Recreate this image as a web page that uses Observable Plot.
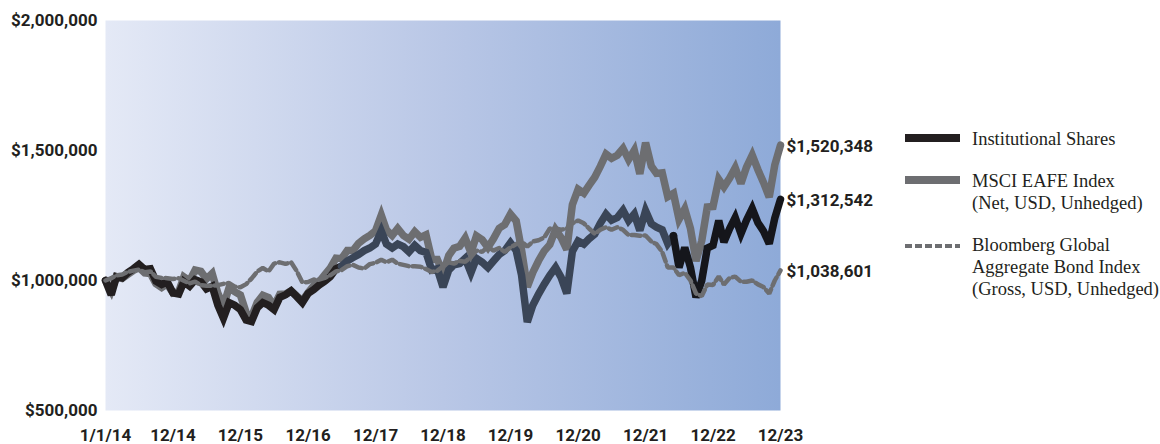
<!DOCTYPE html>
<html><head><meta charset="utf-8">
<script src="https://cdn.jsdelivr.net/npm/d3@7"></script>
<script src="https://cdn.jsdelivr.net/npm/@observablehq/plot@0.6"></script>
<style>
body{margin:0;background:#fff;}
#wrap{position:relative;width:1160px;height:444px;overflow:hidden;}
#legend{position:absolute;left:0;top:0;pointer-events:none;}
</style></head><body><div id="wrap"></div>
<script>
// Growth of $1,000,000 — month-end values, starting 1/1/14
const startDate = "2014-01-01";

const institutional = [1000000,
  945000,1015000,1010000,1030000,1045000,1062000,1042000,1045000,998000,985000,995000,952000,
  948000,995000,978000,1003000,995000,968000,978000,905000,855000,915000,905000,888000,
  848000,842000,895000,915000,905000,888000,935000,945000,960000,938000,915000,950000,
  965000,982000,997000,1015000,1045000,1055000,1075000,1088000,1100000,1115000,1125000,1140000,
  1190000,1140000,1125000,1140000,1130000,1110000,1135000,1115000,1108000,1040000,1045000,975000,
  1040000,1060000,1065000,1085000,1030000,1085000,1070000,1050000,1075000,1100000,1115000,1145000,
  1115000,1020000,840000,905000,948000,985000,1020000,1050000,1012000,950000,1112000,1152000,
  1140000,1160000,1178000,1220000,1255000,1232000,1242000,1270000,1230000,1256000,1192000,1268000,
  1218000,1205000,1195000,1142000,1172000,1050000,1127000,1050000,935000,1000000,1125000,1135000,
  1230000,1148000,1200000,1242000,1180000,1232000,1277000,1222000,1190000,1142000,1240000,1312542];

const msciEafe = [1000000,
  960000,1014000,1008000,1023000,1039000,1050000,1029000,1027000,988000,973000,987000,952000,
  957000,1014000,999000,1040000,1035000,1006000,1027000,951000,902000,973000,957000,944000,
  876000,860000,916000,943000,934000,902000,947000,948000,960000,940000,922000,953000,
  981000,994000,1022000,1048000,1086000,1084000,1115000,1115000,1143000,1160000,1173000,1191000,
  1251000,1194000,1173000,1200000,1173000,1159000,1188000,1166000,1176000,1082000,1081000,1028000,
  1096000,1124000,1131000,1163000,1107000,1172000,1157000,1127000,1160000,1201000,1215000,1255000,
  1229000,1118000,975000,1031000,1076000,1113000,1138000,1196000,1165000,1119000,1292000,1351000,
  1336000,1366000,1397000,1439000,1486000,1470000,1482000,1508000,1465000,1501000,1410000,1530000,
  1440000,1412000,1414000,1322000,1335000,1235000,1275000,1200000,1075000,1153000,1283000,1285000,
  1389000,1360000,1394000,1433000,1373000,1436000,1482000,1426000,1377000,1321000,1444000,1520348];

const bloombergAgg = [1000000,
  1009000,1020000,1023000,1033000,1038000,1042000,1032000,1035000,1014000,1010000,1009000,1006000,
  1009000,999000,989000,996000,982000,980000,980000,982000,987000,990000,976000,974000,
  986000,1007000,1035000,1048000,1035000,1065000,1070000,1064000,1070000,1036000,993000,994000,
  1004000,1003000,1010000,1020000,1035000,1040000,1055000,1060000,1050000,1046000,1063000,1068000,
  1080000,1070000,1080000,1065000,1060000,1055000,1055000,1053000,1044000,1033000,1037000,1055000,
  1070000,1065000,1075000,1072000,1090000,1115000,1110000,1130000,1115000,1125000,1110000,1127000,
  1140000,1150000,1130000,1150000,1155000,1165000,1200000,1200000,1195000,1200000,1220000,1231000,
  1220000,1200000,1180000,1195000,1205000,1195000,1205000,1195000,1175000,1175000,1172000,1173000,
  1150000,1140000,1110000,1050000,1050000,1020000,1030000,1000000,950000,940000,985000,983000,
  1015000,985000,1010000,1015000,995000,995000,1000000,985000,975000,950000,1000000,1038601];

const seriesNames = ["Institutional Shares", "MSCI EAFE Index", "Bloomberg Global Aggregate Bond Index"];
const legendLines = [["Institutional Shares"], ["MSCI EAFE Index", "(Net, USD, Unhedged)"],
  ["Bloomberg Global", "Aggregate Bond Index", "(Gross, USD, Unhedged)"]];
const xTickLabels = ["1/1/14","12/14","12/15","12/16","12/17","12/18","12/19","12/20","12/21","12/22","12/23"];
const yTicks = [500000, 1000000, 1500000, 2000000];

// colours
const cBlack = "#231f20", cSlate = "#3a4557", cGray = "#6d6e71";

const dates = institutional.map((_, i) => d3.utcMonth.offset(new Date(startDate), i));
const rows = (arr, name) => arr.map((v, i) => ({date: dates[i], value: v, series: name, i}));
const instRows = rows(institutional, seriesNames[0]);
const msciRows = rows(msciEafe, seriesNames[1]);
const bondRows = rows(bloombergAgg, seriesNames[2]);
const last = institutional.length - 1;
const endRows = [msciRows[last], instRows[last], bondRows[last]];

const tickDates = xTickLabels.map((_, k) => dates[k * 12]);
const tickMap = new Map(tickDates.map((d, k) => [+d, xTickLabels[k]]));

const defs = () => {
  const g = d3.create("svg:defs");
  const lg = g.append("linearGradient").attr("id", "bggrad").attr("x1", "0").attr("x2", "1").attr("y1", "0").attr("y2", "0");
  lg.append("stop").attr("offset", "0").attr("stop-color", "#e4e9f6");
  lg.append("stop").attr("offset", "0.5").attr("stop-color", "#b9c7e6");
  lg.append("stop").attr("offset", "1").attr("stop-color", "#8eaad8");
  return g.node();
};

const lineOpts = {x: "date", y: "value", strokeWidth: 7.5, strokeLinejoin: "miter", strokeMiterlimit: 3};

const chart = Plot.plot({
  width: 1160, height: 444,
  marginLeft: 105, marginRight: 380, marginTop: 20, marginBottom: 34,
  style: {fontFamily: "Roboto", fontSize: "17px", fontWeight: "bold", color: "#231f20", background: "transparent"},
  x: {type: "utc", domain: [dates[0], dates[last]], ticks: tickDates, tickFormat: d => tickMap.get(+d),
      tickSize: 0, tickPadding: 18, label: null},
  y: {domain: [500000, 2000000], ticks: yTicks, tickFormat: d3.format("$,"), tickSize: 0, tickPadding: 8, label: null},
  marks: [
    defs,
    Plot.frame({fill: "url(#bggrad)", stroke: "none"}),
    Plot.line(msciRows, {...lineOpts, stroke: cGray}),
    Plot.line(instRows.filter(d => d.i <= 42), {...lineOpts, stroke: cBlack}),
    Plot.line(instRows.filter(d => d.i >= 42 && d.i <= 101), {...lineOpts, stroke: cSlate}),
    Plot.line(instRows.filter(d => d.i >= 101), {...lineOpts, stroke: "#15161b"}),
    Plot.line(bondRows, {x: "date", y: "value", stroke: cGray, strokeWidth: 4.5, strokeDasharray: "9,4", strokeLinejoin: "miter"}),
    Plot.text(endRows, {x: "date", y: "value", text: d => d3.format("$,")(d.value), textAnchor: "start", dx: 6, dy: 1,
      fill: "#231f20", fontWeight: "bold", fontSize: 17})
  ]
});

const wrap = document.getElementById("wrap");
wrap.appendChild(chart);

// Legend (SVG overlay, real text)
const leg = d3.select(wrap).append("svg").attr("id", "legend").attr("width", 1160).attr("height", 444)
  .style("font-family", "'Liberation Serif', 'Times New Roman', serif").style("font-size", "18.5px");
const swatchY = [138, 180, 246];
const textY = [145, 187, 251];
leg.append("line").attr("x1", 905).attr("x2", 960).attr("y1", swatchY[0]).attr("y2", swatchY[0]).attr("stroke", cBlack).attr("stroke-width", 8);
leg.append("line").attr("x1", 905).attr("x2", 960).attr("y1", swatchY[1]).attr("y2", swatchY[1]).attr("stroke", cGray).attr("stroke-width", 8);
leg.append("line").attr("x1", 905).attr("x2", 960).attr("y1", swatchY[2]).attr("y2", swatchY[2]).attr("stroke", cGray).attr("stroke-width", 4).attr("stroke-dasharray", "7,3");
legendLines.forEach((lines, k) => {
  const t = leg.append("text").attr("x", 972).attr("y", textY[k]).attr("fill", "#231f20");
  lines.forEach((s, j) => t.append("tspan").attr("x", 972).attr("dy", j === 0 ? 0 : 22).text(s));
});
</script></body></html>
